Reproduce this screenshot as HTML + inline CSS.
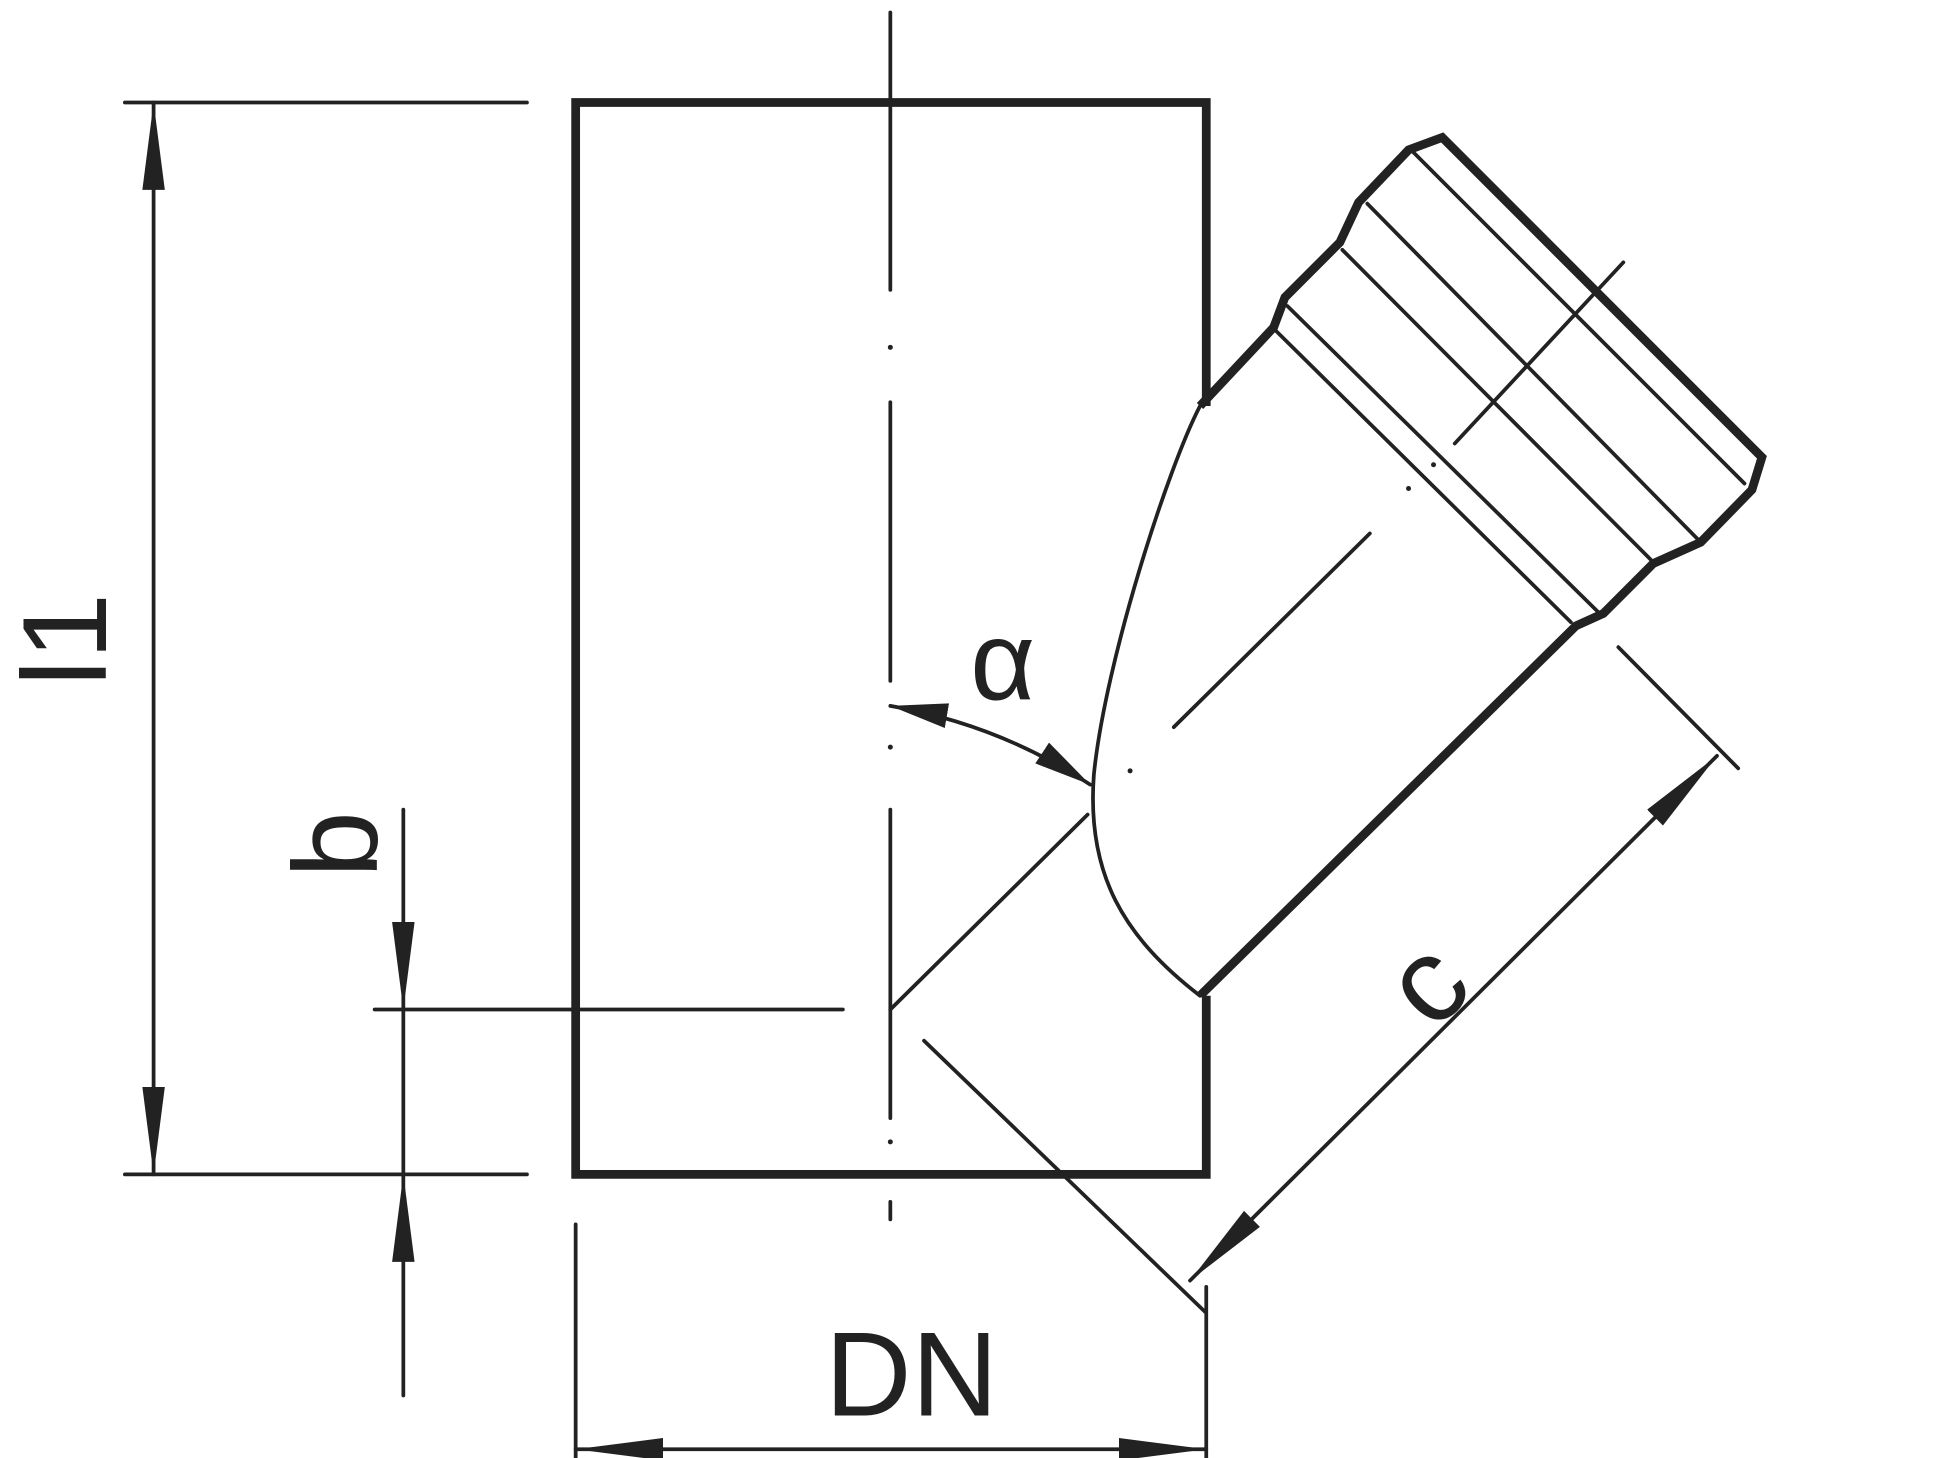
<!DOCTYPE html>
<html><head><meta charset="utf-8"><style>html,body{margin:0;padding:0;background:#fff}svg{display:block}</style></head>
<body>
<svg width="1938" height="1458" viewBox="0 0 1552 1167" preserveAspectRatio="none" xmlns="http://www.w3.org/2000/svg">
<defs>
<marker id="a" viewBox="0 0 70 20" refX="70" refY="10" markerWidth="70" markerHeight="20" markerUnits="userSpaceOnUse" orient="auto"><path d="M0,1 L70,10 L0,19 Z" fill="#222"/></marker>
<marker id="s" viewBox="0 0 70 20" refX="0" refY="10" markerWidth="70" markerHeight="20" markerUnits="userSpaceOnUse" orient="auto"><path d="M70,1 L0,10 L70,19 Z" fill="#222"/></marker>
<marker id="sa" viewBox="0 0 46 20" refX="46" refY="10" markerWidth="46" markerHeight="20" markerUnits="userSpaceOnUse" orient="auto"><path d="M0,0 L46,10 L0,20 Z" fill="#222"/></marker>
<marker id="ss" viewBox="0 0 46 20" refX="0" refY="10" markerWidth="46" markerHeight="20" markerUnits="userSpaceOnUse" orient="auto"><path d="M46,0 L0,10 L46,20 Z" fill="#222"/></marker>
</defs>
<g stroke="#222" fill="none" stroke-linecap="round">
<path d="M966,325 L966,82 L461,82 L461,940 L966,940 L966,797" stroke-width="7" stroke-linecap="butt" stroke-linejoin="miter"/>
<path d="M961,325 L1020,262 L1029,238 L1073,194 L1088,162 L1128,120 L1155,110 L1411,366 L1403,392 L1362,434 L1324,451 L1284,491 L1262,501 L961,797" stroke-width="7" stroke-linejoin="miter" stroke-linecap="butt"/>
<path d="M961,325 C935,375 885,530 876,620 C870,700 900,750 961,797" stroke-width="3"/>
<g stroke-width="3">
<line x1="1022" y1="265" x2="1258" y2="498"/>
<line x1="1031" y1="245" x2="1281" y2="491"/>
<line x1="1075" y1="200" x2="1322" y2="448"/>
<line x1="1095" y1="163" x2="1360" y2="432"/>
<line x1="1132" y1="122" x2="1397" y2="387"/>
<line x1="713" y1="10" x2="713" y2="232"/>
<line x1="713" y1="322" x2="713" y2="545"/>
<line x1="713" y1="648" x2="713" y2="895"/>
<line x1="713" y1="962" x2="713" y2="976"/>
<line x1="1300" y1="210" x2="1165" y2="355"/>
<line x1="1097" y1="427" x2="940" y2="582"/>
<line x1="871" y1="652" x2="713" y2="808"/>
<line x1="100" y1="82" x2="422" y2="82"/>
<line x1="100" y1="940" x2="422" y2="940"/>
<line x1="300" y1="808" x2="675" y2="808"/>
<line x1="740" y1="833" x2="965" y2="1050"/>
<line x1="1296" y1="518" x2="1392" y2="615"/>
<line x1="461" y1="980" x2="461" y2="1178"/>
<line x1="966" y1="1030" x2="966" y2="1178"/>
<line x1="123" y1="82" x2="123" y2="940" marker-start="url(#s)" marker-end="url(#a)"/>
<line x1="323" y1="648" x2="323" y2="808" marker-end="url(#a)"/>
<line x1="323" y1="1117" x2="323" y2="940" marker-end="url(#a)"/>
<line x1="323" y1="808" x2="323" y2="940"/>
<line x1="461" y1="1160" x2="966" y2="1160" marker-start="url(#s)" marker-end="url(#a)"/>
<line x1="953" y1="1025" x2="1375" y2="605" marker-start="url(#s)" marker-end="url(#a)"/>
<path d="M713,565 Q800,580 873,628" marker-start="url(#ss)" marker-end="url(#sa)"/>
</g>
</g>
<g fill="#222">
<circle cx="713" cy="278" r="2"/><circle cx="713" cy="598" r="2"/><circle cx="713" cy="914" r="2"/>
<circle cx="1128" cy="391" r="2"/><circle cx="1148" cy="372" r="2"/><circle cx="905" cy="617" r="2"/>
</g>
<g font-family="Liberation Sans, sans-serif" fill="#222">
<text x="730" y="1133" font-size="96" text-anchor="middle">DN</text>
<text x="803" y="560" font-size="90" text-anchor="middle">α</text>
<text transform="translate(85,512) rotate(-90)" font-size="96" text-anchor="middle">l1</text>
<text transform="translate(302,676) rotate(-90)" font-size="96" text-anchor="middle">b</text>
<text transform="translate(1165,810) rotate(-45)" font-size="96" text-anchor="middle">c</text>
</g>
</svg>
</body></html>
